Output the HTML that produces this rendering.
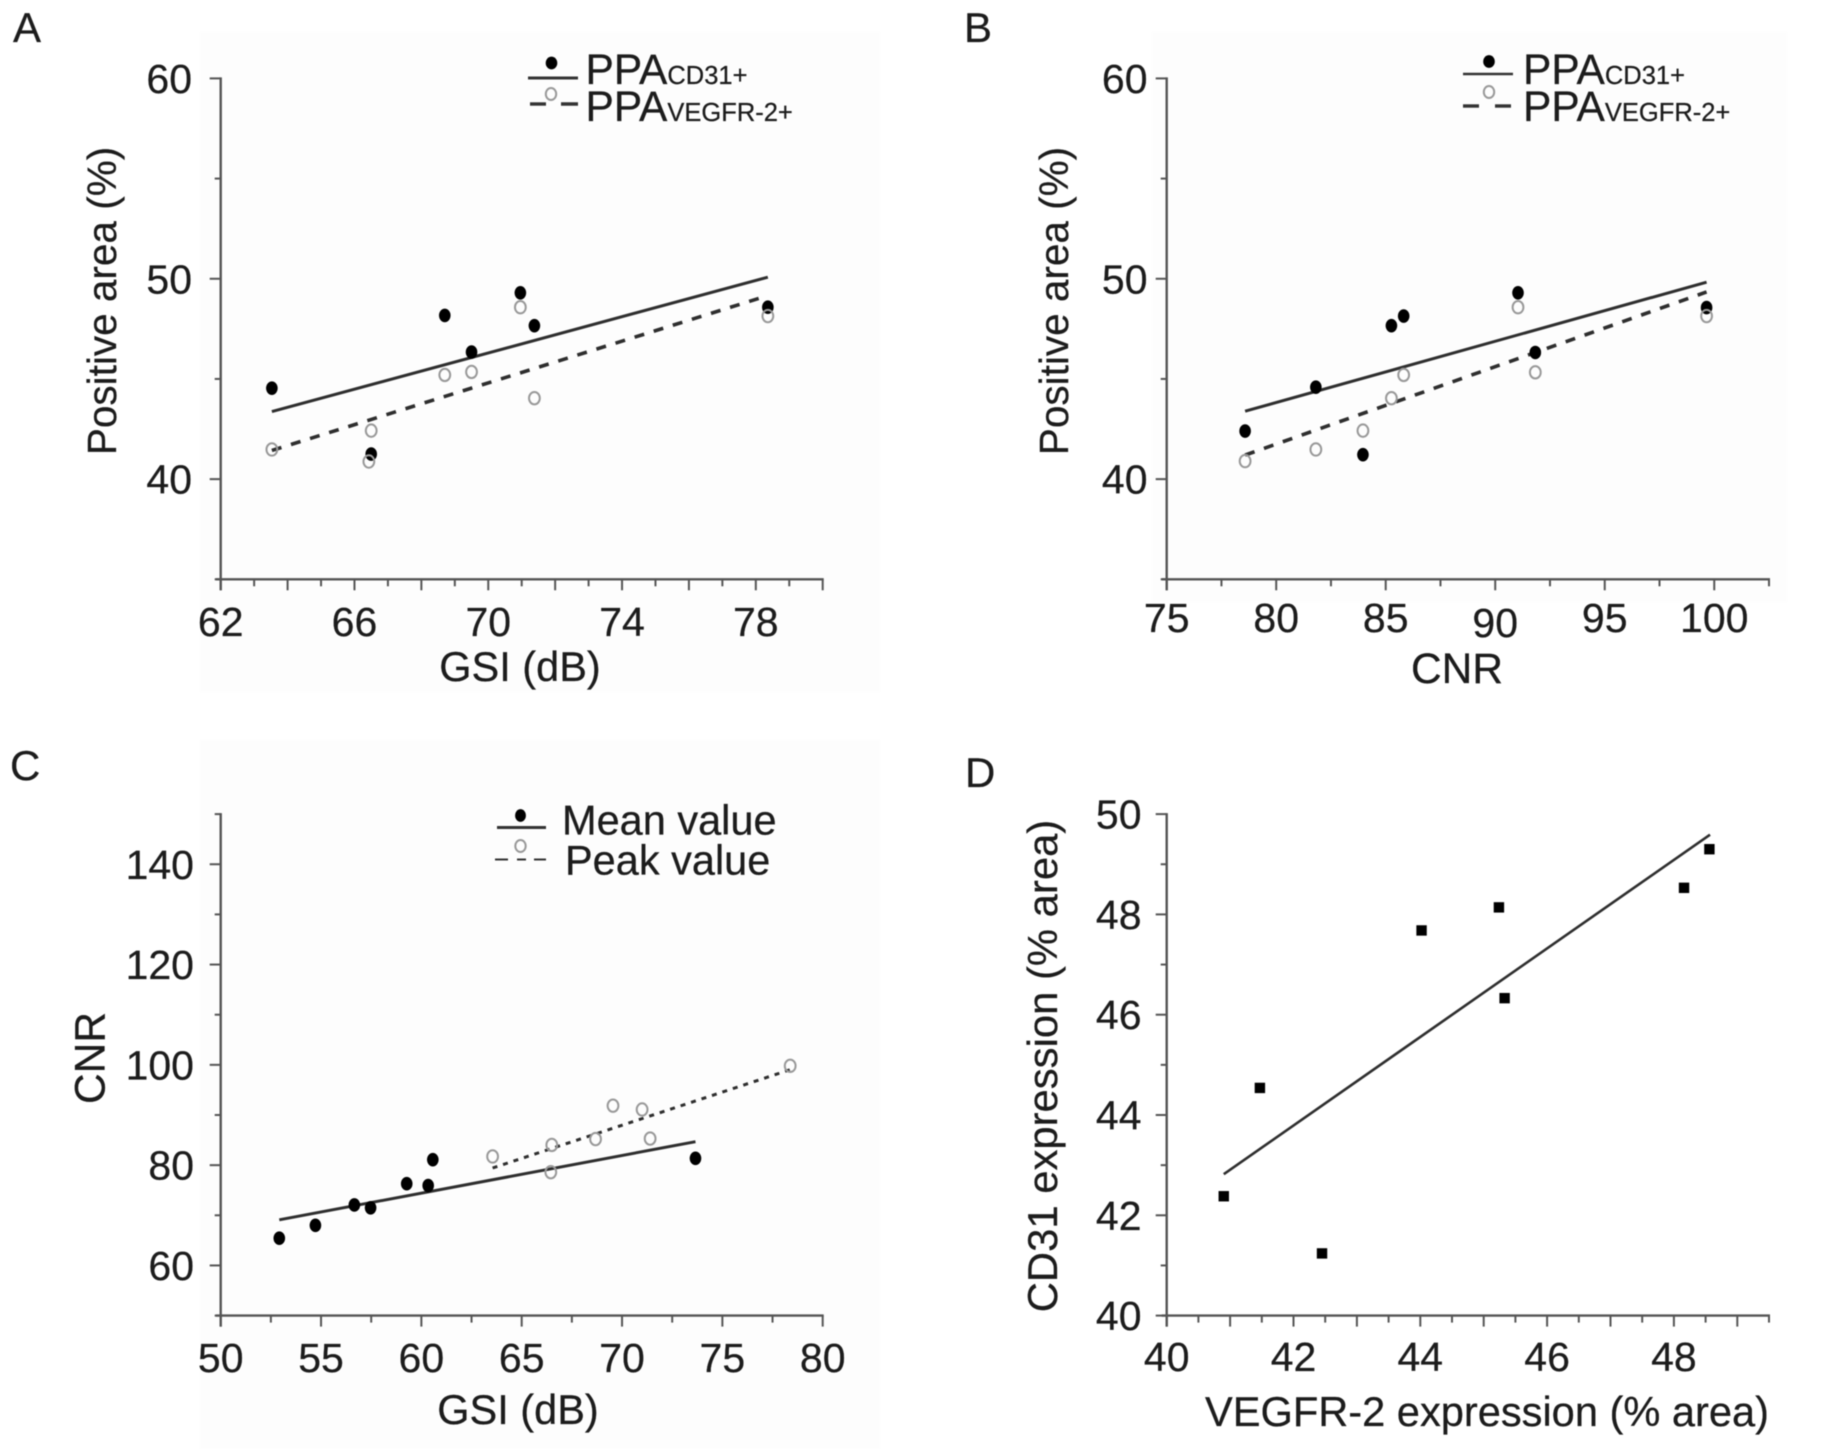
<!DOCTYPE html>
<html lang="en">
<head>
<meta charset="utf-8">
<title>Positive area and expression correlation charts</title>
<style>
html,body{margin:0;padding:0;background:#fff;width:1822px;height:1449px;overflow:hidden}
svg{display:block;filter:blur(0.65px)}
text{font-family:"Liberation Sans",sans-serif;fill:#1c1c1c;stroke:#1c1c1c;stroke-width:0.25px}
</style>
</head>
<body>
<svg id="figure" xmlns="http://www.w3.org/2000/svg" width="1822" height="1449" viewBox="0 0 1822 1449">
  <rect x="200" y="32" width="680" height="660" fill="#fdfdfd"/>
  <rect x="1152" y="32" width="635" height="570" fill="#fdfdfd"/>
  <rect x="200" y="740" width="680" height="709" fill="#fdfdfd"/>

  <text x="13" y="42" font-size="42">A</text>
  <text x="964" y="42" font-size="42">B</text>
  <text x="10" y="780" font-size="42">C</text>
  <text x="965" y="787" font-size="42">D</text>

  <g>
    <ellipse cx="551.5" cy="63" rx="5.8" ry="6.4" fill="#000"/>
    <line x1="528" x2="578" y1="78" y2="78" stroke="#333" stroke-width="3"/>
    <text x="585.5" y="84" font-size="42.5">PPA<tspan font-size="25.5">CD31+</tspan></text>
    <ellipse cx="551" cy="94" rx="5.2" ry="6" fill="none" stroke="#999" stroke-width="2"/>
    <line x1="530" x2="546" y1="104" y2="104" stroke="#333" stroke-width="3.4"/>
    <line x1="561" x2="578" y1="104" y2="104" stroke="#333" stroke-width="3.4"/>
    <text x="585.5" y="121" font-size="42.5">PPA<tspan font-size="25.5">VEGFR-2+</tspan></text>
  </g>
  <g>
    <ellipse cx="1489" cy="61.5" rx="5.8" ry="6.4" fill="#000"/>
    <line x1="1463" x2="1513" y1="74" y2="74" stroke="#333" stroke-width="2.6"/>
    <text x="1523" y="84" font-size="42.5">PPA<tspan font-size="25.5">CD31+</tspan></text>
    <ellipse cx="1489" cy="92" rx="5.2" ry="6" fill="none" stroke="#999" stroke-width="2"/>
    <line x1="1463" x2="1479" y1="106" y2="106" stroke="#333" stroke-width="3.4"/>
    <line x1="1495" x2="1511" y1="106" y2="106" stroke="#333" stroke-width="3.4"/>
    <text x="1523" y="121" font-size="42.5">PPA<tspan font-size="25.5">VEGFR-2+</tspan></text>
  </g>
  <g>
    <ellipse cx="520.5" cy="815.5" rx="5.4" ry="6.4" fill="#000"/>
    <line x1="497" x2="546" y1="827.5" y2="827.5" stroke="#333" stroke-width="3"/>
    <text x="562" y="834.5" font-size="41.5">Mean value</text>
    <ellipse cx="520.5" cy="846" rx="5.2" ry="6" fill="none" stroke="#999" stroke-width="2"/>
    <line x1="495" x2="508" y1="859.5" y2="859.5" stroke="#333" stroke-width="2"/>
    <line x1="517" x2="526" y1="859.5" y2="859.5" stroke="#333" stroke-width="2"/>
    <line x1="534" x2="546" y1="859.5" y2="859.5" stroke="#333" stroke-width="2"/>
    <text x="565" y="874.5" font-size="41.5">Peak value</text>
  </g>
</svg>
<script>
// Panel A
var aCd31X = [63.53, 66.5, 68.7, 69.5, 70.96, 71.38, 78.36];
var aCd31Y = [44.54, 41.25, 48.17, 46.34, 49.3, 47.66, 48.58];
var aVegfrX = [63.53, 66.5, 66.43, 68.7, 69.5, 70.96, 71.38, 78.36];
var aVegfrY = [41.48, 42.42, 40.88, 45.2, 45.35, 48.58, 44.04, 48.14];
var aCd31FitX = [63.53, 78.36];
var aCd31FitY = [43.37, 50.08];
var aVegfrFitX = [63.53, 78.36];
var aVegfrFitY = [41.43, 49.16];
var aXTicksMajor = [62, 64, 66, 68, 70, 72, 74, 76, 78, 80];
var aXTicksMinor = [63, 65, 67, 69, 71, 73, 75, 77, 79];
var aXLabels = [62, 66, 70, 74, 78];
var aYTicksMajor = [40, 50, 60];
var aYTicksMinor = [35, 45, 55];
var aYLabels = [40, 50, 60];

// Panel B
var bCd31X = [78.58, 81.81, 83.96, 85.26, 85.82, 91.04, 91.83, 99.65];
var bCd31Y = [42.4, 44.59, 41.22, 47.66, 48.14, 49.3, 46.32, 48.56];
var bVegfrX = [78.58, 81.81, 83.96, 85.26, 85.82, 91.04, 91.83, 99.65];
var bVegfrY = [40.9, 41.48, 42.42, 44.04, 45.2, 48.58, 45.33, 48.14];
var bCd31FitX = [78.58, 99.65];
var bCd31FitY = [43.39, 49.83];
var bVegfrFitX = [78.58, 99.65];
var bVegfrFitY = [41.2, 49.34];
var bXTicksMajor = [75, 80, 85, 90, 95, 100];
var bXTicksMinor = [77.5, 82.5, 87.5, 92.5, 97.5, 102.5];
var bXLabels = [75, 80, 85, 90, 95, 100];
var bYTicksMajor = [40, 50, 60];
var bYTicksMinor = [35, 45, 55];
var bYLabels = [40, 50, 60];

// Panel C
var cMeanX = [52.92, 54.72, 56.66, 57.47, 59.27, 60.34, 60.57, 73.66];
var cMeanY = [65.43, 68.0, 72.06, 71.5, 76.3, 75.93, 81.09, 81.36];
var cPeakX = [63.55, 66.5, 66.45, 68.68, 69.55, 71.0, 71.4, 78.38];
var cPeakY = [81.73, 84.03, 78.6, 85.2, 91.86, 91.1, 85.3, 99.8];
var cMeanFitX = [52.92, 73.66];
var cMeanFitY = [69.1, 84.68];
var cPeakFitX = [63.55, 78.38];
var cPeakFitY = [79.43, 99.04];
var cXTicksMajor = [50, 55, 60, 65, 70, 75, 80];
var cXTicksMinor = [52.5, 57.5, 62.5, 67.5, 72.5, 77.5];
var cXLabels = [50, 55, 60, 65, 70, 75, 80];
var cYTicksMajor = [60, 80, 100, 120, 140];
var cYTicksMinor = [50, 70, 90, 110, 130, 150];
var cYLabels = [60, 80, 100, 120, 140];

// Panel D
var dVegfrX = [40.9, 41.47, 42.45, 44.02, 45.24, 45.33, 48.16, 48.56];
var dCd31Y = [42.38, 44.54, 41.24, 47.68, 48.14, 46.33, 48.53, 49.3];
var dFitX = [40.9, 48.57];
var dFitY = [42.82, 49.59];
var dXTicksMajor = [40, 41, 42, 43, 44, 45, 46, 47, 48, 49];
var dXTicksMinor = [40.5, 41.5, 42.5, 43.5, 44.5, 45.5, 46.5, 47.5, 48.5, 49.5];
var dXLabels = [40, 42, 44, 46, 48];
var dYTicksMajor = [40, 42, 44, 46, 48, 50];
var dYTicksMinor = [41, 43, 45, 47, 49];
var dYLabels = [40, 42, 44, 46, 48, 50];

var SVG_NS = 'http://www.w3.org/2000/svg';
var figure = document.getElementById('figure');
var AXIS_COLOR = '#555';

function make(parent, tag, name) {
  var el = document.createElementNS(SVG_NS, tag);
  
  
  parent.appendChild(el);
  return el;
}

function scale(d0, d1, p0, p1) {
  return function (v) { return p0 + (v - d0) * (p1 - p0) / (d1 - d0); };
}

function strokeLine(parent, name, x1, y1, x2, y2, color, width, dash) {
  var l = make(parent, 'line', name);
  l.setAttribute('x1', x1);
  l.setAttribute('y1', y1);
  l.setAttribute('x2', x2);
  l.setAttribute('y2', y2);
  l.setAttribute('stroke', color);
  l.setAttribute('stroke-width', width);
  if (dash) l.setAttribute('stroke-dasharray', dash);
  return l;
}

function label(parent, name, x, y, size, anchor, content, rotate) {
  var t = make(parent, 'text', name);
  t.setAttribute('x', x);
  t.setAttribute('y', y);
  t.setAttribute('font-size', size);
  t.setAttribute('text-anchor', anchor);
  if (rotate) t.setAttribute('transform', 'rotate(-90 ' + x + ' ' + y + ')');
  t.textContent = content;
  return t;
}

function drawAxes(g, key, sx, sy, box, major, minor, xLabels, yLabels, yMajor, yMinor, fmt) {
  strokeLine(g, key + '-x-axis', box.left - 5, box.bottom, box.right + 1, box.bottom, AXIS_COLOR, 2.4);
  strokeLine(g, key + '-y-axis', box.left, box.top - 1, box.left, box.bottom + 11, AXIS_COLOR, 2.4);
  major.forEach(function (v) {
    strokeLine(g, key + '-x-tick', sx(v), box.bottom, sx(v), box.bottom + 11, AXIS_COLOR, 2);
  });
  minor.forEach(function (v) {
    strokeLine(g, key + '-x-minor-tick', sx(v), box.bottom, sx(v), box.bottom + 7, AXIS_COLOR, 2);
  });
  yMajor.forEach(function (v) {
    strokeLine(g, key + '-y-tick', box.left - 11, sy(v), box.left, sy(v), AXIS_COLOR, 2);
  });
  yMinor.forEach(function (v) {
    strokeLine(g, key + '-y-minor-tick', box.left - 6, sy(v), box.left, sy(v), AXIS_COLOR, 2);
  });
  xLabels.forEach(function (v) {
    var drop = v === fmt.dropLabel ? fmt.dropBy : 0;
    label(g, key + '-x-tick-label', sx(v), fmt.xBase + drop, 41, 'middle', String(v));
  });
  yLabels.forEach(function (v) {
    label(g, key + '-y-tick-label', fmt.yRight, sy(v) + 14.5, 41, 'end', String(v));
  });
}

function drawFit(g, name, sx, sy, xs, ys, width, dash) {
  strokeLine(g, name, sx(xs[0]), sy(ys[0]), sx(xs[1]), sy(ys[1]), '#2e2e2e', width, dash);
}

function drawFilled(g, name, sx, sy, xs, ys) {
  xs.forEach(function (x, i) {
    var p = make(g, 'ellipse', name);
    p.setAttribute('cx', sx(x));
    p.setAttribute('cy', sy(ys[i]));
    p.setAttribute('rx', 5.8);
    p.setAttribute('ry', 6.8);
    p.setAttribute('fill', '#000');
  });
}

function drawOpen(g, name, sx, sy, xs, ys) {
  xs.forEach(function (x, i) {
    var p = make(g, 'ellipse', name);
    p.setAttribute('cx', sx(x));
    p.setAttribute('cy', sy(ys[i]));
    p.setAttribute('rx', 5.4);
    p.setAttribute('ry', 6.2);
    p.setAttribute('fill', 'none');
    p.setAttribute('stroke', '#999');
    p.setAttribute('stroke-width', 2);
  });
}

function drawSquares(g, name, sx, sy, xs, ys) {
  xs.forEach(function (x, i) {
    var p = make(g, 'rect', name);
    p.setAttribute('x', sx(x) - 5.2);
    p.setAttribute('y', sy(ys[i]) - 5.2);
    p.setAttribute('width', 10.4);
    p.setAttribute('height', 10.4);
    p.setAttribute('fill', '#000');
  });
}

// Chart A
(function () {
  var g = make(figure, 'g', 'chart-a');
  var box = { left: 220.7, right: 822.7, top: 78.4, bottom: 579.3 };
  var sx = scale(62, 80, box.left, box.right);
  var sy = scale(35, 60, box.bottom, box.top);
  drawAxes(g, 'chart-a', sx, sy, box, aXTicksMajor, aXTicksMinor, aXLabels, aYLabels, aYTicksMajor, aYTicksMinor, { xBase: 636, yRight: 192 });
  label(g, 'chart-a-x-axis-title', 520, 681, 41.5, 'middle', 'GSI (dB)');
  label(g, 'chart-a-y-axis-title', 116, 301, 40.5, 'middle', 'Positive area (%)', true);
  drawFit(g, 'chart-a-cd31-fit-line', sx, sy, aCd31FitX, aCd31FitY, 3);
  drawFit(g, 'chart-a-vegfr-fit-line', sx, sy, aVegfrFitX, aVegfrFitY, 3.6, '10 10');
  drawFilled(g, 'chart-a-cd31-point', sx, sy, aCd31X, aCd31Y);
  drawOpen(g, 'chart-a-vegfr-point', sx, sy, aVegfrX, aVegfrY);
})();

// Chart B
(function () {
  var g = make(figure, 'g', 'chart-b');
  var box = { left: 1166.7, right: 1769, top: 78.4, bottom: 579.3 };
  var sx = scale(75, 102.5, box.left, box.right);
  var sy = scale(35, 60, box.bottom, box.top);
  drawAxes(g, 'chart-b', sx, sy, box, bXTicksMajor, bXTicksMinor, bXLabels, bYLabels, bYTicksMajor, bYTicksMinor, { xBase: 632, yRight: 1147.5, dropLabel: 90, dropBy: 5 });
  label(g, 'chart-b-x-axis-title', 1457, 683, 42.5, 'middle', 'CNR');
  label(g, 'chart-b-y-axis-title', 1068, 301, 40.5, 'middle', 'Positive area (%)', true);
  drawFit(g, 'chart-b-cd31-fit-line', sx, sy, bCd31FitX, bCd31FitY, 3);
  drawFit(g, 'chart-b-vegfr-fit-line', sx, sy, bVegfrFitX, bVegfrFitY, 3.6, '10 10');
  drawFilled(g, 'chart-b-cd31-point', sx, sy, bCd31X, bCd31Y);
  drawOpen(g, 'chart-b-vegfr-point', sx, sy, bVegfrX, bVegfrY);
})();

// Chart C
(function () {
  var g = make(figure, 'g', 'chart-c');
  var box = { left: 220.7, right: 822.7, top: 814.1, bottom: 1315.6 };
  var sx = scale(50, 80, box.left, box.right);
  var sy = scale(50, 150, box.bottom, box.top);
  drawAxes(g, 'chart-c', sx, sy, box, cXTicksMajor, cXTicksMinor, cXLabels, cYLabels, cYTicksMajor, cYTicksMinor, { xBase: 1372, yRight: 194 });
  label(g, 'chart-c-x-axis-title', 518, 1424, 41.5, 'middle', 'GSI (dB)');
  label(g, 'chart-c-y-axis-title', 104.6, 1058, 42.5, 'middle', 'CNR', true);
  drawFit(g, 'chart-c-mean-fit-line', sx, sy, cMeanFitX, cMeanFitY, 3);
  drawFit(g, 'chart-c-peak-fit-line', sx, sy, cPeakFitX, cPeakFitY, 3, '5 6');
  drawFilled(g, 'chart-c-mean-point', sx, sy, cMeanX, cMeanY);
  drawOpen(g, 'chart-c-peak-point', sx, sy, cPeakX, cPeakY);
})();

// Chart D
(function () {
  var g = make(figure, 'g', 'chart-d');
  var box = { left: 1166.7, right: 1769, top: 814.1, bottom: 1315.6 };
  var sx = scale(40, 49.5, box.left, box.right);
  var sy = scale(40, 50, box.bottom, box.top);
  drawAxes(g, 'chart-d', sx, sy, box, dXTicksMajor, dXTicksMinor, dXLabels, dYLabels, dYTicksMajor, dYTicksMinor, { xBase: 1371, yRight: 1141.5 });
  label(g, 'chart-d-x-axis-title', 1769, 1426, 41.6, 'end', 'VEGFR-2 expression (% area)');
  label(g, 'chart-d-y-axis-title', 1057, 1066, 41.8, 'middle', 'CD31 expression (% area)', true);
  drawFit(g, 'chart-d-fit-line', sx, sy, dFitX, dFitY, 2.6);
  drawSquares(g, 'chart-d-point', sx, sy, dVegfrX, dCd31Y);
})();
</script>
</body>
</html>
